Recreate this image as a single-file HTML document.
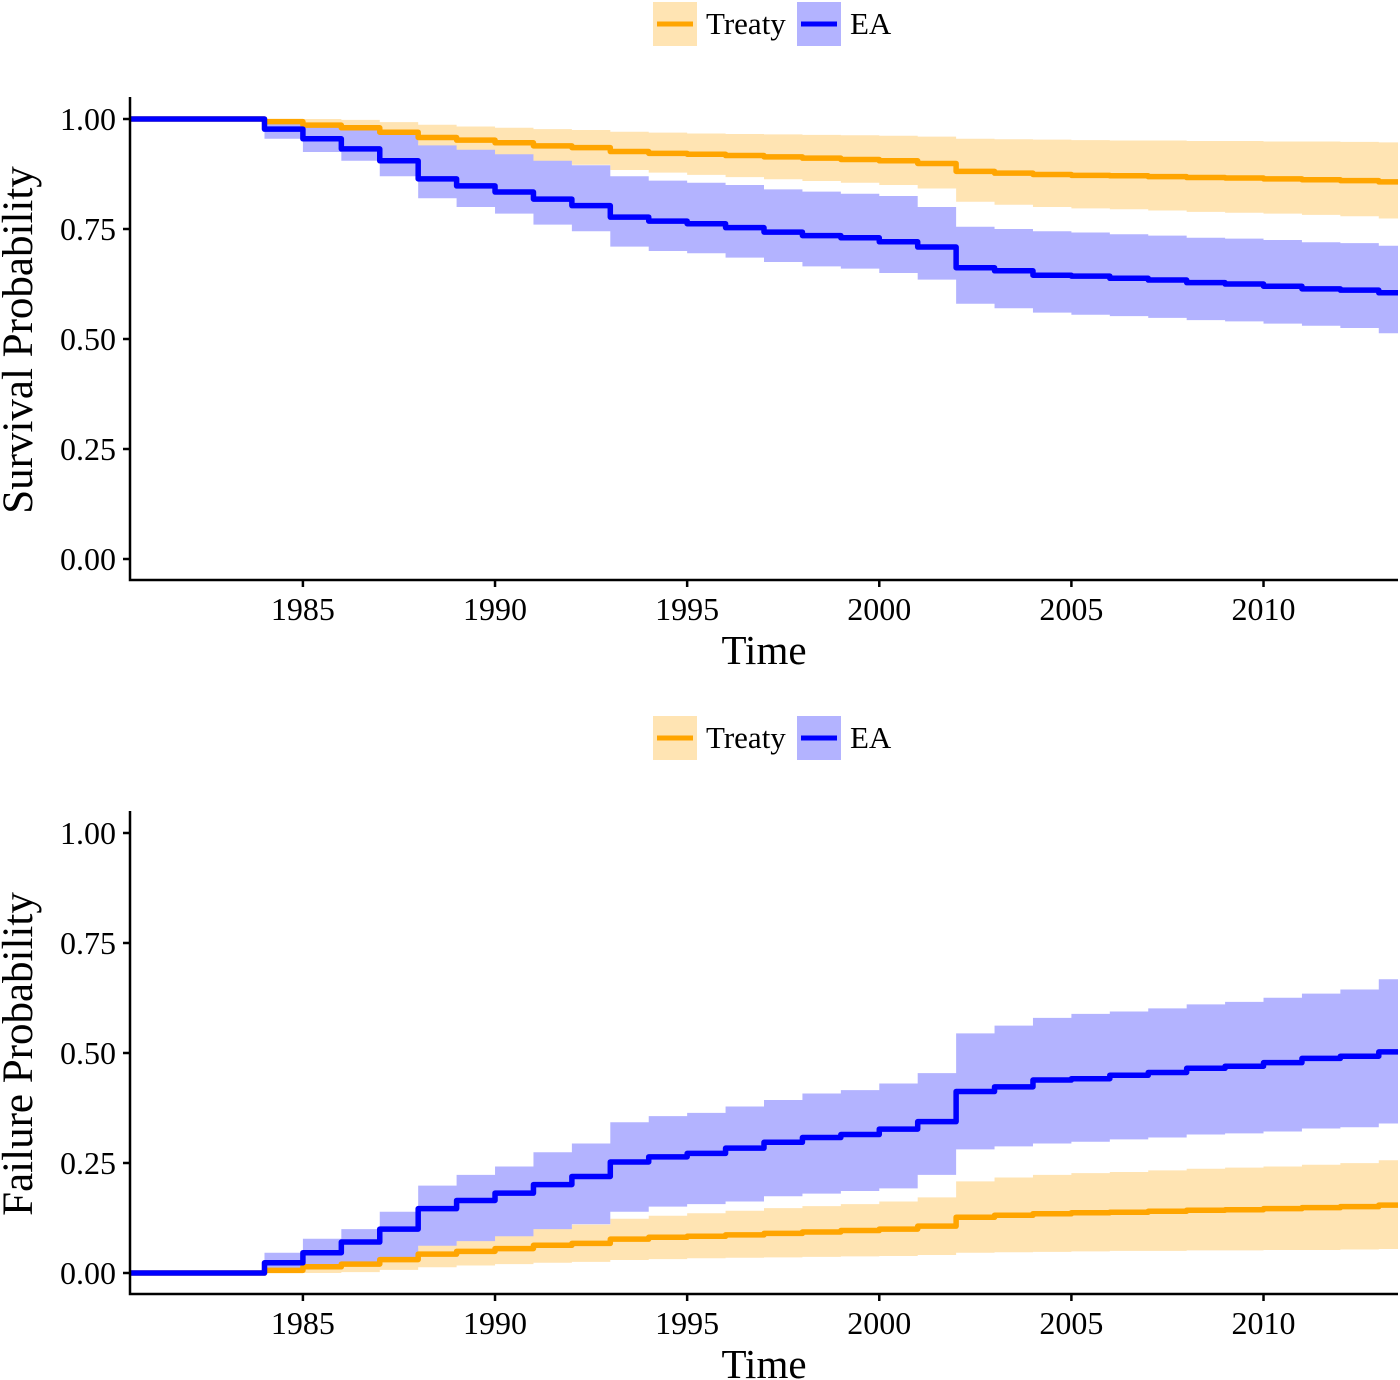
<!DOCTYPE html>
<html><head><meta charset="utf-8"><style>
body{margin:0;background:#fff}
svg{display:block;font-family:"Liberation Serif",serif}
</style></head><body>
<svg id="chart" width="1400" height="1380" viewBox="0 0 1400 1380"></svg>
<script>
// Data: survival estimates at the start of each year
const years = [1984,1985,1986,1987,1988,1989,1990,1991,1992,1993,1994,1995,1996,1997,1998,1999,2000,2001,2002,2003,2004,2005,2006,2007,2008,2009,2010,2011,2012,2013];
const treatySurv = [0.994,0.986,0.980,0.970,0.958,0.952,0.946,0.939,0.935,0.926,0.922,0.920,0.917,0.914,0.911,0.908,0.905,0.899,0.881,0.877,0.874,0.872,0.871,0.869,0.867,0.866,0.864,0.862,0.860,0.857];
const treatyUpper = [1.0,1.0,0.998,0.993,0.987,0.983,0.980,0.977,0.975,0.971,0.969,0.967,0.966,0.965,0.964,0.963,0.962,0.960,0.955,0.954,0.953,0.952,0.951,0.951,0.950,0.950,0.949,0.949,0.948,0.947];
const treatyLower = [0.985,0.973,0.960,0.945,0.928,0.920,0.912,0.902,0.896,0.884,0.878,0.873,0.868,0.863,0.859,0.855,0.850,0.842,0.812,0.805,0.800,0.797,0.795,0.792,0.789,0.787,0.785,0.782,0.779,0.774];
const eaSurv = [0.977,0.955,0.932,0.905,0.864,0.848,0.834,0.818,0.803,0.777,0.768,0.762,0.753,0.743,0.735,0.730,0.721,0.709,0.662,0.655,0.645,0.643,0.638,0.634,0.628,0.625,0.620,0.614,0.611,0.605];
const eaUpper = [1.0,0.99,0.98,0.965,0.94,0.93,0.92,0.905,0.895,0.87,0.86,0.855,0.85,0.84,0.835,0.83,0.825,0.80,0.755,0.75,0.745,0.742,0.738,0.735,0.73,0.728,0.725,0.72,0.718,0.712];
const eaLower = [0.955,0.925,0.905,0.87,0.82,0.80,0.785,0.76,0.745,0.71,0.70,0.695,0.685,0.675,0.665,0.66,0.65,0.635,0.58,0.57,0.56,0.555,0.552,0.548,0.543,0.54,0.535,0.53,0.525,0.513];
const yTickLabels = ["0.00","0.25","0.50","0.75","1.00"];
const yTicks = [0,0.25,0.5,0.75,1];
const xTicks = [1985,1990,1995,2000,2005,2010];

const NS="http://www.w3.org/2000/svg";
const svg=document.getElementById('chart');
function mk(tag,attrs,parent){const e=document.createElementNS(NS,tag);for(const k in attrs)e.setAttribute(k,attrs[k]);(parent||svg).appendChild(e);return e;}
const X0=1980.5,X1=2013.5,PL=130,PR=1398;
const xs=v=>PL+(v-X0)/(X1-X0)*(PR-PL);

function stepPts(vals,ys){
  const pts=[[xs(X0),ys(vals.start)]];
  let prev=vals.start;
  years.forEach((yr,i)=>{pts.push([xs(yr),ys(prev)]);pts.push([xs(yr),ys(vals.v[i])]);prev=vals.v[i];});
  pts.push([xs(X1),ys(prev)]);
  return pts;
}
function panel(offset,transform,yTitle,key){
  const y0=559+offset,y1=119+offset;
  const ys=v=>y0-(v)*(y0-y1);
  const g=mk('g',{});
  
  
  const series=[
    {name:'treaty',s:treatySurv,u:treatyUpper,l:treatyLower,band:'#ffe4b3',line:'#ffa500'},
    {name:'ea',s:eaSurv,u:eaUpper,l:eaLower,band:'#b3b3ff',line:'#0000ff'}
  ];
  series.forEach(sr=>{
    const up=stepPts({start:transform(1),v:sr.u.map(transform)},ys);
    const lo=stepPts({start:transform(1),v:sr.l.map(transform)},ys);
    const poly=up.concat(lo.reverse()).map(p=>p.join(',')).join(' ');
    const b=mk('polygon',{points:poly,fill:sr.band,stroke:'none'},g);
    
    
  });
  series.forEach(sr=>{
    const p=stepPts({start:transform(1),v:sr.s.map(transform)},ys).map(p=>p.join(',')).join(' ');
    const l=mk('polyline',{points:p,fill:'none',stroke:sr.line,'stroke-width':5.5,'stroke-linejoin':'round'},g);
    
    
  });
  const ax=mk('path',{d:`M${PL} ${97+offset}V${580+offset}H${PR}`,fill:'none',stroke:'#000','stroke-width':2.5},g);
  
  
  yTicks.forEach((t,i)=>{
    mk('line',{x1:PL-7,x2:PL,y1:ys(t),y2:ys(t),stroke:'#000','stroke-width':2.5},g);
    const tx=mk('text',{x:116,y:ys(t)+11,'text-anchor':'end','font-size':32,fill:'#000'},g);
    tx.textContent=yTickLabels[i];
    
    
  });
  xTicks.forEach(t=>{
    mk('line',{x1:xs(t),x2:xs(t),y1:580+offset,y2:587+offset,stroke:'#000','stroke-width':2.5},g);
    const tx=mk('text',{x:xs(t),y:620+offset,'text-anchor':'middle','font-size':32,fill:'#000'},g);
    tx.textContent=t;
    
    
  });
  const xt=mk('text',{x:764,y:664+offset,'text-anchor':'middle','font-size':41,fill:'#000'},g);
  xt.textContent='Time';
  
  
  const yt=mk('text',{x:0,y:0,'text-anchor':'middle','font-size':43,fill:'#000',transform:`translate(32,${340+offset}) rotate(-90)`},g);
  yt.textContent=yTitle;
  
  
  const lg=mk('g',{},g);
  
  
  [[653,'Treaty','#ffe4b3','#ffa500'],[797,'EA','#b3b3ff','#0000ff']].forEach(([x,lab,bf,lc])=>{
    const e=mk('g',{},lg);
    
    
    mk('rect',{x:x,y:2+offset,width:44,height:44,fill:bf},e);
    mk('line',{x1:x+4,x2:x+40,y1:24+offset,y2:24+offset,stroke:lc,'stroke-width':5},e);
    const t=mk('text',{x:x+53,y:34+offset,'font-size':31,fill:'#000'},e);
    t.textContent=lab;
  });
}
panel(0,v=>v,'Survival Probability','survival');
panel(714,v=>-Math.log(v),'Failure Probability','failure');
</script>
</body></html>
